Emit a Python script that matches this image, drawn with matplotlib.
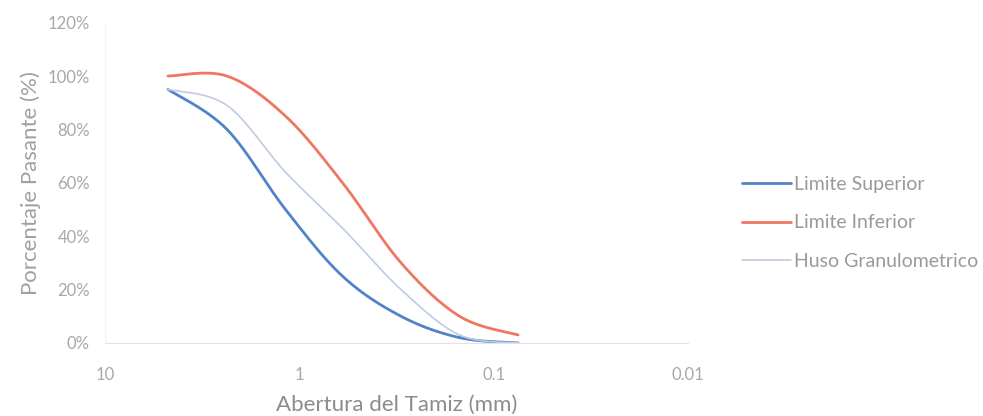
import matplotlib
matplotlib.use("Agg")
import matplotlib.pyplot as plt
import numpy as np
from matplotlib.ticker import FixedLocator, FuncFormatter

# sieve openings (mm) and % passing
tamiz = [4.75, 2.36, 1.18, 0.6, 0.3, 0.15, 0.075]
lim_superior = [95, 80, 50, 25, 10, 2, 0]
lim_inferior = [100, 100, 85, 60, 30, 10, 3]
huso = [95, 89, 64, 43, 20, 3, 0]

series = [
    ("Limite Superior", lim_superior, "#5283c8", 2.0),
    ("Limite Inferior", lim_inferior, "#ee7762", 2.0),
    ("Huso Granulometrico", huso, "#bfcbe0", 1.2),
]


def smooth(xs, ys, n=30):
    # Catmull-Rom through the points in (log x, y), like Excel's smoothed line
    u = np.log10(xs)
    p = np.column_stack([u, ys]).astype(float)
    p = np.vstack([p[0], p, p[-1]])
    out = []
    for i in range(1, len(p) - 2):
        p0, p1, p2, p3 = p[i - 1], p[i], p[i + 1], p[i + 2]
        t = np.linspace(0, 1, n)[:, None]
        seg = 0.5 * (2 * p1 + (-p0 + p2) * t + (2 * p0 - 5 * p1 + 4 * p2 - p3) * t ** 2
                     + (-p0 + 3 * p1 - 3 * p2 + p3) * t ** 3)
        out.append(seg)
    out = np.vstack(out)
    return 10 ** out[:, 0], out[:, 1]


plt.rcParams["font.family"] = ["Lato", "DejaVu Sans"]

fig = plt.figure(figsize=(9.83, 4.16), dpi=100)
ax = fig.add_axes([0.107, 0.1755, 0.593, 0.77])

for name, vals, color, lw in series:
    sx, sy = smooth(tamiz, vals)
    ax.plot(sx, sy, color=color, lw=lw, label=name, solid_capstyle="round")

ax.set_xscale("log")
ax.set_xlim(10, 0.01)
ax.set_ylim(0, 120)
ax.xaxis.set_major_locator(FixedLocator([10, 1, 0.1, 0.01]))
ax.xaxis.set_minor_locator(FixedLocator([]))
ax.xaxis.set_major_formatter(FuncFormatter(lambda v, p: f"{v:g}"))
ax.set_yticks(range(0, 121, 20))
ax.yaxis.set_major_formatter(FuncFormatter(lambda v, p: f"{v:.0f}%"))
ax.tick_params(length=0, colors="#a8a8a8", labelsize=12)
ax.tick_params(axis="y", pad=11)
ax.tick_params(axis="x", pad=17)

for s in ["top", "right"]:
    ax.spines[s].set_visible(False)
ax.spines["bottom"].set_color("#e3e3e3")
ax.spines["left"].set_color("#f2f2f2")

ax.set_xlabel("Abertura del Tamiz (mm)", color="#8c8c8c", fontsize=16, labelpad=9)
ax.set_ylabel("Porcentaje Pasante (%)", color="#a0a0a0", fontsize=16, labelpad=5)

leg = ax.legend(loc="center left", bbox_to_anchor=(742 / 983, 1 - 223 / 416),
                bbox_transform=fig.transFigure, frameon=False, fontsize=14,
                handlelength=2.5, handletextpad=0.15, labelspacing=1.1,
                borderpad=0, borderaxespad=0)
for t in leg.get_texts():
    t.set_color("#9a9a9a")

fig.savefig("out.png", dpi=100)
